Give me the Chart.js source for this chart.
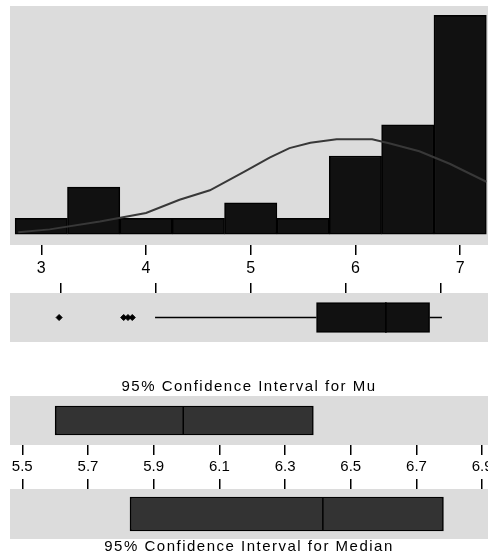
<!DOCTYPE html>
<html>
<head>
<meta charset="utf-8">
<script src="https://cdn.jsdelivr.net/npm/chart.js@4/dist/chart.umd.min.js"></script>
<style>
  body { margin: 0; background: #fff; }
  #wrap { position: relative; width: 488px; height: 556px; overflow: hidden; }
  canvas { position: absolute; left: 0; }
</style>
</head>
<body>
<div id="wrap">
  <canvas id="hist" width="488" height="280" style="top:0"></canvas>
  <canvas id="box" width="488" height="72" style="top:270px"></canvas>
  <canvas id="mu" width="488" height="115" style="top:360px"></canvas>
  <canvas id="med" width="488" height="81" style="top:475px"></canvas>
</div>
<script>
// histogram
const binCenters = [3, 3.5, 4, 4.5, 5, 5.5, 6, 6.5, 7];
const binCounts = [1, 3, 1, 1, 2, 1, 5, 7, 14];
const histTicks = [3, 4, 5, 6, 7];
// fitted curve
const curveX = [2.78, 3.08, 3.56, 4.0, 4.32, 4.61, 4.94, 5.18, 5.37, 5.57, 5.82, 6.16, 6.33, 6.61, 6.9, 7.25];
const curveY = [0.11, 0.3, 0.8, 1.35, 2.2, 2.8, 4.0, 4.9, 5.5, 5.85, 6.07, 6.07, 5.8, 5.3, 4.5, 3.35];
// boxplot: whisker low, q1, median, q3, whisker high
const boxFive = [3.99, 5.69, 6.42, 6.88, 7.01];
const outliers = [2.98, 3.66, 3.705, 3.75];
// confidence intervals: low, center, high
const muCI = [5.60, 5.99, 6.386];
const medianCI = [5.828, 6.415, 6.782];
const ciTicks = [5.5, 5.7, 5.9, 6.1, 6.3, 6.5, 6.7, 6.9];

Chart.defaults.font.family = '"Liberation Sans", Arial, sans-serif';
Chart.defaults.color = '#000';
Chart.defaults.animation = false;
Chart.defaults.responsive = false;
Chart.defaults.plugins.legend.display = false;
Chart.defaults.plugins.tooltip.enabled = false;

const GREY = '#dcdcdc';

// fill the plot area grey
const panelBg = {
  id: 'panelBg',
  beforeDraw(chart) {
    const a = chart.chartArea;
    const ctx = chart.ctx;
    ctx.save();
    ctx.fillStyle = GREY;
    ctx.fillRect(a.left, a.top, a.right - a.left, a.bottom - a.top);
    ctx.restore();
  }
};

// the original titles are set with loose letter spacing
const wideTitle = {
  id: 'wideTitle',
  afterInit(chart) {
    const tb = chart.titleBlock;
    if (!tb) return;
    const orig = tb.draw.bind(tb);
    tb.draw = function(area) {
      chart.ctx.letterSpacing = '1.5px';
      orig(area);
      chart.ctx.letterSpacing = '0px';
    };
  }
};

function fixedTicks(vals) {
  return function(scale) {
    scale.ticks = vals.map(v => ({ value: v }));
  };
}

function fixedHeight(h) {
  return function(scale) {
    scale.height = h;
    scale.paddingLeft = 0;
    scale.paddingRight = 0;
  };
}

// Histogram with fitted curve
new Chart(document.getElementById('hist'), {
  type: 'bar',
  data: {
    datasets: [
      {
        type: 'line',
        data: curveX.map((x, i) => ({ x: x, y: curveY[i] })),
        borderColor: '#383838',
        borderWidth: 2,
        pointRadius: 0,
        tension: 0,
        order: 0
      },
      {
        data: binCenters.map((x, i) => ({ x: x, y: binCounts[i] })),
        backgroundColor: '#111',
        borderColor: '#000',
        borderWidth: 1.5,
        borderSkipped: false,
        barPercentage: 1,
        categoryPercentage: 1,
        order: 1
      }
    ]
  },
  options: {
    layout: { autoPadding: false, padding: { left: 10, top: 6, right: 0, bottom: 0 } },
    scales: {
      x: {
        type: 'linear',
        min: 2.701,
        max: 7.266,
        offset: false,
        afterBuildTicks: fixedTicks(histTicks),
        afterFit: fixedHeight(35),
        border: { display: false },
        grid: { offset: false, drawOnChartArea: false, tickLength: 10, color: '#000', lineWidth: 1.5 },
        ticks: { padding: 4, font: { size: 16 }, callback: v => v }
      },
      y: { display: false, min: -0.7, max: 14.6 }
    }
  },
  plugins: [panelBg]
});

// Boxplot
new Chart(document.getElementById('box'), {
  type: 'bar',
  data: {
    datasets: [
      {
        type: 'scatter',
        showLine: true,
        data: [{ x: boxFive[0], y: 0 }, { x: boxFive[1], y: 0 }],
        borderColor: '#000', borderWidth: 1.5, pointRadius: 0
      },
      {
        type: 'scatter',
        showLine: true,
        data: [{ x: boxFive[3], y: 0 }, { x: boxFive[4], y: 0 }],
        borderColor: '#000', borderWidth: 1.5, pointRadius: 0
      },
      {
        type: 'scatter',
        showLine: true,
        data: [{ x: boxFive[2], y: -0.62 }, { x: boxFive[2], y: 0.62 }],
        borderColor: '#000', borderWidth: 1.5, pointRadius: 0,
        order: -1
      },
      {
        type: 'scatter',
        data: outliers.map(x => ({ x: x, y: 0 })),
        pointStyle: 'rectRot', pointRadius: 3,
        backgroundColor: '#000', borderColor: '#000', borderWidth: 1
      },
      {
        data: [{ x: [boxFive[1], boxFive[3]], y: 0 }],
        backgroundColor: '#111', borderColor: '#000', borderWidth: 1.5,
        borderSkipped: false, barThickness: 30
      }
    ]
  },
  options: {
    indexAxis: 'y',
    layout: { autoPadding: false, padding: { left: 10, right: 0, top: 0, bottom: 0 } },
    scales: {
      x: {
        type: 'linear', position: 'top',
        min: 2.463, max: 7.495,
        afterBuildTicks: fixedTicks(histTicks),
        afterFit: fixedHeight(23),
        border: { display: false },
        grid: { drawOnChartArea: false, tickLength: 10, color: '#000', lineWidth: 1.5 },
        ticks: { display: false }
      },
      y: { type: 'linear', display: false, min: -1, max: 1, offset: false }
    }
  },
  plugins: [panelBg]
});

function ciChart(id, ci, thick, half, withLabels, titleText, titlePos) {
  return new Chart(document.getElementById(id), {
    type: 'bar',
    data: {
      datasets: [
        {
          type: 'scatter',
          showLine: true,
          data: [{ x: ci[1], y: -half }, { x: ci[1], y: half }],
          borderColor: '#000', borderWidth: 1.5, pointRadius: 0,
          order: -1
        },
        {
          data: [{ x: [ci[0], ci[2]], y: 0 }],
          backgroundColor: '#333', borderColor: '#000', borderWidth: 1.5,
          borderSkipped: false, barThickness: thick
        }
      ]
    },
    options: {
      indexAxis: 'y',
      layout: { autoPadding: false, padding: { left: 10, right: 0, top: 0, bottom: 0 } },
      plugins: {
        title: {
          display: true,
          text: titleText,
          position: titlePos,
          color: '#000',
          font: { size: 15, weight: 'normal', lineHeight: 1 },
          padding: titlePos === 'top' ? { top: 19, bottom: 2 } : { top: 0, bottom: 2 }
        }
      },
      scales: {
        x: {
          type: 'linear',
          position: withLabels ? 'bottom' : 'top',
          min: 5.4626, max: 6.9177,
          afterBuildTicks: fixedTicks(ciTicks),
          afterFit: fixedHeight(withLabels ? 30 : 14),
          border: { display: false },
          grid: { drawOnChartArea: false, tickLength: 10, color: '#000', lineWidth: 1.5 },
          ticks: {
            display: withLabels, padding: 3, font: { size: 15 },
            callback: v => v.toFixed(1)
          }
        },
        y: { type: 'linear', display: false, min: -1, max: 1, offset: false }
      }
    },
    plugins: [panelBg, wideTitle]
  });
}

ciChart('mu', muCI, 29, 0.59, true, '95% Confidence Interval for Mu', 'top');
ciChart('med', medianCI, 34, 0.68, false, '95% Confidence Interval for Median', 'bottom');
</script>
</body>
</html>
